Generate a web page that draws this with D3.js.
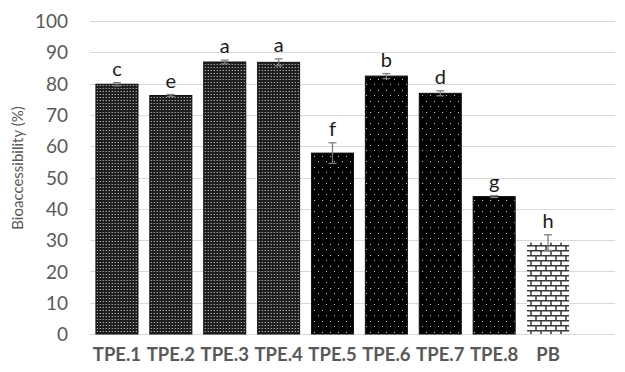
<!DOCTYPE html>
<html>
<head>
<meta charset="utf-8">
<script src="https://cdn.jsdelivr.net/npm/d3@7"></script>
<style>
  html, body { margin: 0; padding: 0; background: #fff; }
  svg { display: block; }
</style>
</head>
<body>
<svg id="chart" width="625" height="372"></svg>
<script>
// Bioaccessibility of each formulation (mean ± SD) with significance letters
const categories = ["TPE.1", "TPE.2", "TPE.3", "TPE.4", "TPE.5", "TPE.6", "TPE.7", "TPE.8", "PB"];
const values     = [79.8, 76.2, 86.9, 86.8, 57.8, 82.4, 76.9, 43.9, 29.2];
const errors     = [0.5, 0.3, 0.6, 1.1, 3.3, 0.8, 0.8, 0.3, 2.5];
const letters    = ["c", "e", "a", "a", "f", "b", "d", "g", "h"];
const fillKinds  = ["grid", "grid", "grid", "grid", "dots", "dots", "dots", "dots", "brick"];
const yTicks     = [0, 10, 20, 30, 40, 50, 60, 70, 80, 90, 100];

const svg = d3.select("#chart");
const plotTop = 21, plotBottom = 334;

const y = d3.scaleLinear().domain([0, 100]).range([plotBottom, plotTop]);
const x = d3.scaleBand().domain(categories).range([90, 575]).paddingInner(0.22).paddingOuter(0.11);

// Fill patterns
const defs = svg.append("defs");

// dense dark weave
const pGrid = defs.append("pattern").attr("id", "grid").attr("patternUnits", "userSpaceOnUse")
  .attr("width", 3).attr("height", 3);
pGrid.append("rect").attr("width", 3).attr("height", 3).attr("fill", "#1e1e1e");
pGrid.append("rect").attr("x", 1).attr("y", 1).attr("width", 1).attr("height", 1).attr("fill", "#a0a0a0");
pGrid.append("rect").attr("x", 0).attr("y", 1).attr("width", 1).attr("height", 1).attr("fill", "#505050");

// black with sparse staggered white dots
const pDots = defs.append("pattern").attr("id", "dots").attr("patternUnits", "userSpaceOnUse")
  .attr("width", 8).attr("height", 11);
pDots.append("rect").attr("width", 8).attr("height", 11).attr("fill", "#000");
pDots.append("rect").attr("x", 2).attr("y", 2).attr("width", 1).attr("height", 1).attr("fill", "#c8c8c8");
pDots.append("rect").attr("x", 6).attr("y", 7).attr("width", 1).attr("height", 1).attr("fill", "#c8c8c8");

// brick wall
const pBrick = defs.append("pattern").attr("id", "brick").attr("patternUnits", "userSpaceOnUse")
  .attr("width", 10).attr("height", 10);
pBrick.append("rect").attr("width", 10).attr("height", 10).attr("fill", "#fff");
pBrick.append("path")
  .attr("d", "M0 0.75H10 M0 5.75H10 M1 0V5.75 M6 5.75V10")
  .attr("stroke", "#3a3a3a").attr("stroke-width", 1.5).attr("fill", "none");

// Gridlines
svg.append("g").selectAll("line").data(yTicks).join("line")
  .attr("x1", 90).attr("x2", 615)
  .attr("y1", d => Math.round(y(d)) + 0.5).attr("y2", d => Math.round(y(d)) + 0.5)
  .attr("stroke", "#d9d9d9").attr("stroke-width", 1);

// Y axis labels
const yAxis = d3.axisLeft(y).tickValues(yTicks).tickSize(0).tickPadding(0);
const gy = svg.append("g").attr("transform", "translate(68,0)").call(yAxis);
gy.select(".domain").remove();
gy.selectAll("text")
  .attr("font-family", "Lato, 'Open Sans', sans-serif")
  .attr("font-size", 19).attr("fill", "#595959").attr("dy", "0.35em");

// Y axis title
svg.append("text")
  .attr("transform", "translate(23,168) rotate(-90)")
  .attr("text-anchor", "middle")
  .attr("font-family", "Lato, 'Open Sans', sans-serif")
  .attr("font-size", 15).attr("fill", "#595959")
  .text("Bioaccessibility (%)");

// Bars
const rows = categories.map((c, i) => ({ c, v: values[i], e: errors[i], l: letters[i], f: fillKinds[i] }));

svg.append("g").selectAll("rect").data(rows).join("rect")
  .attr("x", d => x(d.c))
  .attr("y", d => y(d.v))
  .attr("width", x.bandwidth())
  .attr("height", d => y(0) - y(d.v))
  .attr("fill", d => `url(#${d.f})`)
  .attr("stroke", d => d.f === "brick" ? "none" : "#111")
  .attr("stroke-width", 1);

// Error bars
const eb = svg.append("g").attr("stroke", "#7f7f7f").attr("stroke-width", 1.3);
rows.forEach(d => {
  const cx = x(d.c) + x.bandwidth() / 2;
  const top = y(d.v + d.e), bot = y(d.v - d.e);
  eb.append("line").attr("x1", cx).attr("x2", cx).attr("y1", top).attr("y2", bot);
  eb.append("line").attr("x1", cx - 4).attr("x2", cx + 4).attr("y1", top).attr("y2", top);
  eb.append("line").attr("x1", cx - 4).attr("x2", cx + 4).attr("y1", bot).attr("y2", bot);
});

// Significance letters
svg.append("g").selectAll("text").data(rows).join("text")
  .attr("x", d => x(d.c) + x.bandwidth() / 2)
  .attr("y", d => y(d.v + d.e) - 7)
  .attr("text-anchor", "middle")
  .attr("font-family", "Lato, 'Open Sans', sans-serif")
  .attr("font-size", 20).attr("fill", "#1a1a1a")
  .text(d => d.l);

// X axis category labels
const xAxis = d3.axisBottom(x).tickSize(0).tickPadding(0);
const gx = svg.append("g").attr("transform", "translate(0,355)").call(xAxis);
gx.select(".domain").remove();
gx.selectAll("text")
  .attr("font-family", "Lato, 'Open Sans', sans-serif")
  .attr("font-weight", "bold")
  .attr("font-size", 18.5).attr("fill", "#595959")
  .attr("dy", "0.35em");
</script>
</body>
</html>
